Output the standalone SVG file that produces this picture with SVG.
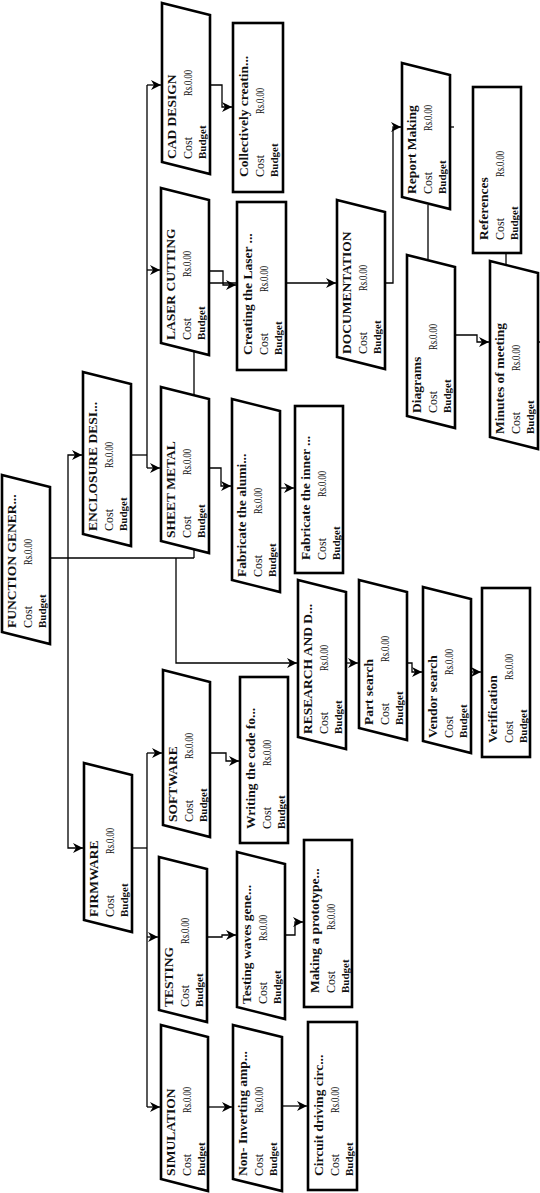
<svg xmlns="http://www.w3.org/2000/svg" width="540" height="1193" viewBox="0 0 540 1193">
<style>
.box{fill:#fff;stroke:#000;stroke-width:2.6;stroke-linejoin:miter}
.ln{fill:none;stroke:#000;stroke-width:1.3}
.t{font-family:"Liberation Serif",serif;font-weight:bold;font-size:13.5px;fill:#111}
.c{font-family:"Liberation Serif",serif;font-size:12px;fill:#111}
.r{font-family:"Liberation Serif",serif;font-size:12px;fill:#111}
.b{font-family:"Liberation Serif",serif;font-weight:bold;font-size:11px;fill:#111}
</style>
<defs>
<marker id="ah" markerUnits="userSpaceOnUse" markerWidth="10" markerHeight="10" refX="10" refY="5" orient="auto">
<path d="M0,0 L10,5 L0,10 L3,5 Z" fill="#000"/>
</marker>
</defs>
<rect width="540" height="1193" fill="#fff"/>
<g id="connectors">
<path class="ln" d="M50,558 H194"/>
<path class="ln" d="M68,558 V455 H82" marker-end="url(#ah)"/>
<path class="ln" d="M68,558 V848 H83" marker-end="url(#ah)"/>
<path class="ln" d="M176,558 V663 H297" marker-end="url(#ah)"/>
<path class="ln" d="M194,558 V283 H336" marker-end="url(#ah)"/>
<path class="ln" d="M131,455 H147"/>
<path class="ln" d="M147,85 V468"/>
<path class="ln" d="M147,85 H161" marker-end="url(#ah)"/>
<path class="ln" d="M147,270 H160" marker-end="url(#ah)"/>
<path class="ln" d="M147,468 H160" marker-end="url(#ah)"/>
<path class="ln" d="M210,85 H222 V107 H232" marker-end="url(#ah)"/>
<path class="ln" d="M209,271 H223 V285 H236" marker-end="url(#ah)"/>
<path class="ln" d="M209,468 H221 V486 H231" marker-end="url(#ah)"/>
<path class="ln" d="M280,488 H294" marker-end="url(#ah)"/>
<path class="ln" d="M346,663 H358" marker-end="url(#ah)"/>
<path class="ln" d="M407,663 H412 V672 H422" marker-end="url(#ah)"/>
<path class="ln" d="M471,672 H481" marker-end="url(#ah)"/>
<path class="ln" d="M385,283 H393 V127 H401" marker-end="url(#ah)"/>
<path class="ln" d="M428,205 V259"/>
<path class="ln" d="M455,335 H477 V342 H489" marker-end="url(#ah)"/>
<path class="ln" d="M506,253 V266"/>
<path class="ln" d="M450,127 H454"/>
<path class="ln" d="M538,342 H540"/>
<path class="ln" d="M132,848 H147"/>
<path class="ln" d="M147,753 V1107"/>
<path class="ln" d="M147,753 H162" marker-end="url(#ah)"/>
<path class="ln" d="M147,937 H158" marker-end="url(#ah)"/>
<path class="ln" d="M147,1107 H160" marker-end="url(#ah)"/>
<path class="ln" d="M210,753 H226 V761 H239" marker-end="url(#ah)"/>
<path class="ln" d="M208,937 H222 V935 H236" marker-end="url(#ah)"/>
<path class="ln" d="M285,935 H295 V922 H303" marker-end="url(#ah)"/>
<path class="ln" d="M208,1107 H232" marker-end="url(#ah)"/>
<path class="ln" d="M282,1106 H307" marker-end="url(#ah)"/>
</g>

<g id="n-func"><path class="box" d="M2,475 L50,487 L50,644 L2,632 Z"/>
<g transform="translate(2,628) rotate(-90)"><text class="t" x="0" y="14">FUNCTION GENER...</text><text class="c" x="0" y="30">Cost</text><text class="r" x="63" y="30" textLength="26" lengthAdjust="spacingAndGlyphs">Rs.0.00</text><text class="b" x="0" y="44">Budget</text></g></g>

<g id="n-encl"><path class="box" d="M83,372 L131,384 L131,546 L83,534 Z"/>
<g transform="translate(83,531) rotate(-90)"><text class="t" x="0" y="14">ENCLOSURE DESI...</text><text class="c" x="0" y="30">Cost</text><text class="r" x="63" y="30" textLength="26" lengthAdjust="spacingAndGlyphs">Rs.0.00</text><text class="b" x="0" y="44">Budget</text></g></g>

<g id="n-firm"><path class="box" d="M84,763 L132,775 L132,932 L84,920 Z"/>
<g transform="translate(84,917) rotate(-90)"><text class="t" x="0" y="14">FIRMWARE</text><text class="c" x="0" y="30">Cost</text><text class="r" x="63" y="30" textLength="26" lengthAdjust="spacingAndGlyphs">Rs.0.00</text><text class="b" x="0" y="44">Budget</text></g></g>

<g id="n-cad"><path class="box" d="M162,3 L210,15 L210,174 L162,162 Z"/>
<g transform="translate(162,159) rotate(-90)"><text class="t" x="0" y="14">CAD DESIGN</text><text class="c" x="0" y="30">Cost</text><text class="r" x="63" y="30" textLength="26" lengthAdjust="spacingAndGlyphs">Rs.0.00</text><text class="b" x="0" y="44">Budget</text></g></g>

<g id="n-coll"><rect class="box" x="233" y="23" width="50" height="169"/>
<g transform="translate(233,177) rotate(-90)"><text class="t" x="0" y="15">Collectively creatin...</text><text class="c" x="0" y="31">Cost</text><text class="r" x="63" y="31" textLength="26" lengthAdjust="spacingAndGlyphs">Rs.0.00</text><text class="b" x="0" y="45">Budget</text></g></g>

<g id="n-laser"><path class="box" d="M161,188 L209,200 L209,355 L161,343 Z"/>
<g transform="translate(161,340) rotate(-90)"><text class="t" x="0" y="14">LASER CUTTING</text><text class="c" x="0" y="30">Cost</text><text class="r" x="63" y="30" textLength="26" lengthAdjust="spacingAndGlyphs">Rs.0.00</text><text class="b" x="0" y="44">Budget</text></g></g>

<g id="n-creat"><rect class="box" x="237" y="202" width="49" height="168"/>
<g transform="translate(237,355) rotate(-90)"><text class="t" x="0" y="15">Creating the Laser ...</text><text class="c" x="0" y="31">Cost</text><text class="r" x="63" y="31" textLength="26" lengthAdjust="spacingAndGlyphs">Rs.0.00</text><text class="b" x="0" y="45">Budget</text></g></g>

<g id="n-sheet"><path class="box" d="M161,387 L209,399 L209,553 L161,541 Z"/>
<g transform="translate(161,538) rotate(-90)"><text class="t" x="0" y="14">SHEET METAL</text><text class="c" x="0" y="30">Cost</text><text class="r" x="63" y="30" textLength="26" lengthAdjust="spacingAndGlyphs">Rs.0.00</text><text class="b" x="0" y="44">Budget</text></g></g>

<g id="n-faba"><path class="box" d="M232,399 L280,411 L280,592 L232,580 Z"/>
<g transform="translate(232,577) rotate(-90)"><text class="t" x="0" y="14">Fabricate the alumi...</text><text class="c" x="0" y="30">Cost</text><text class="r" x="63" y="30" textLength="26" lengthAdjust="spacingAndGlyphs">Rs.0.00</text><text class="b" x="0" y="44">Budget</text></g></g>

<g id="n-fabi"><rect class="box" x="295" y="406" width="48" height="167"/>
<g transform="translate(295,560) rotate(-90)"><text class="t" x="0" y="15">Fabricate the inner ...</text><text class="c" x="0" y="31">Cost</text><text class="r" x="63" y="31" textLength="26" lengthAdjust="spacingAndGlyphs">Rs.0.00</text><text class="b" x="0" y="45">Budget</text></g></g>

<g id="n-res"><path class="box" d="M298,580 L346,592 L346,749 L298,737 Z"/>
<g transform="translate(298,734) rotate(-90)"><text class="t" x="0" y="14">RESEARCH AND D...</text><text class="c" x="0" y="30">Cost</text><text class="r" x="63" y="30" textLength="26" lengthAdjust="spacingAndGlyphs">Rs.0.00</text><text class="b" x="0" y="44">Budget</text></g></g>

<g id="n-part"><path class="box" d="M359,580 L407,592 L407,740 L359,728 Z"/>
<g transform="translate(359,725) rotate(-90)"><text class="t" x="0" y="14">Part search</text><text class="c" x="0" y="30">Cost</text><text class="r" x="63" y="30" textLength="26" lengthAdjust="spacingAndGlyphs">Rs.0.00</text><text class="b" x="0" y="44">Budget</text></g></g>

<g id="n-vend"><path class="box" d="M423,587 L471,599 L471,753 L423,741 Z"/>
<g transform="translate(423,738) rotate(-90)"><text class="t" x="0" y="14">Vendor search</text><text class="c" x="0" y="30">Cost</text><text class="r" x="63" y="30" textLength="26" lengthAdjust="spacingAndGlyphs">Rs.0.00</text><text class="b" x="0" y="44">Budget</text></g></g>

<g id="n-verif"><rect class="box" x="482" y="588" width="48" height="169"/>
<g transform="translate(482,743) rotate(-90)"><text class="t" x="0" y="15">Verification</text><text class="c" x="0" y="31">Cost</text><text class="r" x="63" y="31" textLength="26" lengthAdjust="spacingAndGlyphs">Rs.0.00</text><text class="b" x="0" y="45">Budget</text></g></g>

<g id="n-doc"><path class="box" d="M337,200 L385,212 L385,369 L337,357 Z"/>
<g transform="translate(337,354) rotate(-90)"><text class="t" x="0" y="14">DOCUMENTATION</text><text class="c" x="0" y="30">Cost</text><text class="r" x="63" y="30" textLength="26" lengthAdjust="spacingAndGlyphs">Rs.0.00</text><text class="b" x="0" y="44">Budget</text></g></g>

<g id="n-rep"><path class="box" d="M402,63 L450,75 L450,209 L402,197 Z"/>
<g transform="translate(402,194) rotate(-90)"><text class="t" x="0" y="14">Report Making</text><text class="c" x="0" y="30">Cost</text><text class="r" x="63" y="30" textLength="26" lengthAdjust="spacingAndGlyphs">Rs.0.00</text><text class="b" x="0" y="44">Budget</text></g></g>

<g id="n-refs"><rect class="box" x="473" y="87" width="48" height="166"/>
<g transform="translate(473,240) rotate(-90)"><text class="t" x="0" y="15">References</text><text class="c" x="0" y="31">Cost</text><text class="r" x="63" y="31" textLength="26" lengthAdjust="spacingAndGlyphs">Rs.0.00</text><text class="b" x="0" y="45">Budget</text></g></g>

<g id="n-diag"><path class="box" d="M407,255 L455,267 L455,428 L407,416 Z"/>
<g transform="translate(407,413) rotate(-90)"><text class="t" x="0" y="14">Diagrams</text><text class="c" x="0" y="30">Cost</text><text class="r" x="63" y="30" textLength="26" lengthAdjust="spacingAndGlyphs">Rs.0.00</text><text class="b" x="0" y="44">Budget</text></g></g>

<g id="n-min"><path class="box" d="M490,261 L538,273 L538,449 L490,437 Z"/>
<g transform="translate(490,434) rotate(-90)"><text class="t" x="0" y="14">Minutes of meeting</text><text class="c" x="0" y="30">Cost</text><text class="r" x="63" y="30" textLength="26" lengthAdjust="spacingAndGlyphs">Rs.0.00</text><text class="b" x="0" y="44">Budget</text></g></g>

<g id="n-soft"><path class="box" d="M163,670 L210,682 L210,837 L163,825 Z"/>
<g transform="translate(163,822) rotate(-90)"><text class="t" x="0" y="14">SOFTWARE</text><text class="c" x="0" y="30">Cost</text><text class="r" x="63" y="30" textLength="26" lengthAdjust="spacingAndGlyphs">Rs.0.00</text><text class="b" x="0" y="44">Budget</text></g></g>

<g id="n-writ"><rect class="box" x="240" y="677" width="48" height="166"/>
<g transform="translate(240,829) rotate(-90)"><text class="t" x="0" y="15">Writing the code fo...</text><text class="c" x="0" y="31">Cost</text><text class="r" x="63" y="31" textLength="26" lengthAdjust="spacingAndGlyphs">Rs.0.00</text><text class="b" x="0" y="45">Budget</text></g></g>

<g id="n-test"><path class="box" d="M159,857 L207,869 L207,1022 L159,1010 Z"/>
<g transform="translate(159,1007) rotate(-90)"><text class="t" x="0" y="14">TESTING</text><text class="c" x="0" y="30">Cost</text><text class="r" x="63" y="30" textLength="26" lengthAdjust="spacingAndGlyphs">Rs.0.00</text><text class="b" x="0" y="44">Budget</text></g></g>

<g id="n-twav"><path class="box" d="M237,852 L285,864 L285,1019 L237,1007 Z"/>
<g transform="translate(237,1004) rotate(-90)"><text class="t" x="0" y="14">Testing waves gene...</text><text class="c" x="0" y="30">Cost</text><text class="r" x="63" y="30" textLength="26" lengthAdjust="spacingAndGlyphs">Rs.0.00</text><text class="b" x="0" y="44">Budget</text></g></g>

<g id="n-make"><rect class="box" x="304" y="840" width="48" height="167"/>
<g transform="translate(304,993) rotate(-90)"><text class="t" x="0" y="15">Making a prototype...</text><text class="c" x="0" y="31">Cost</text><text class="r" x="63" y="31" textLength="26" lengthAdjust="spacingAndGlyphs">Rs.0.00</text><text class="b" x="0" y="45">Budget</text></g></g>

<g id="n-sim"><path class="box" d="M161,1025 L208,1037 L208,1191 L161,1179 Z"/>
<g transform="translate(161,1176) rotate(-90)"><text class="t" x="0" y="14">SIMULATION</text><text class="c" x="0" y="30">Cost</text><text class="r" x="63" y="30" textLength="26" lengthAdjust="spacingAndGlyphs">Rs.0.00</text><text class="b" x="0" y="44">Budget</text></g></g>

<g id="n-noninv"><path class="box" d="M233,1025 L282,1037 L282,1191 L233,1179 Z"/>
<g transform="translate(233,1176) rotate(-90)"><text class="t" x="0" y="14">Non- Inverting amp...</text><text class="c" x="0" y="30">Cost</text><text class="r" x="63" y="30" textLength="26" lengthAdjust="spacingAndGlyphs">Rs.0.00</text><text class="b" x="0" y="44">Budget</text></g></g>

<g id="n-circ"><rect class="box" x="308" y="1022" width="49" height="168"/>
<g transform="translate(308,1176) rotate(-90)"><text class="t" x="0" y="15">Circuit driving circ...</text><text class="c" x="0" y="31">Cost</text><text class="r" x="63" y="31" textLength="26" lengthAdjust="spacingAndGlyphs">Rs.0.00</text><text class="b" x="0" y="45">Budget</text></g></g>
</svg>
